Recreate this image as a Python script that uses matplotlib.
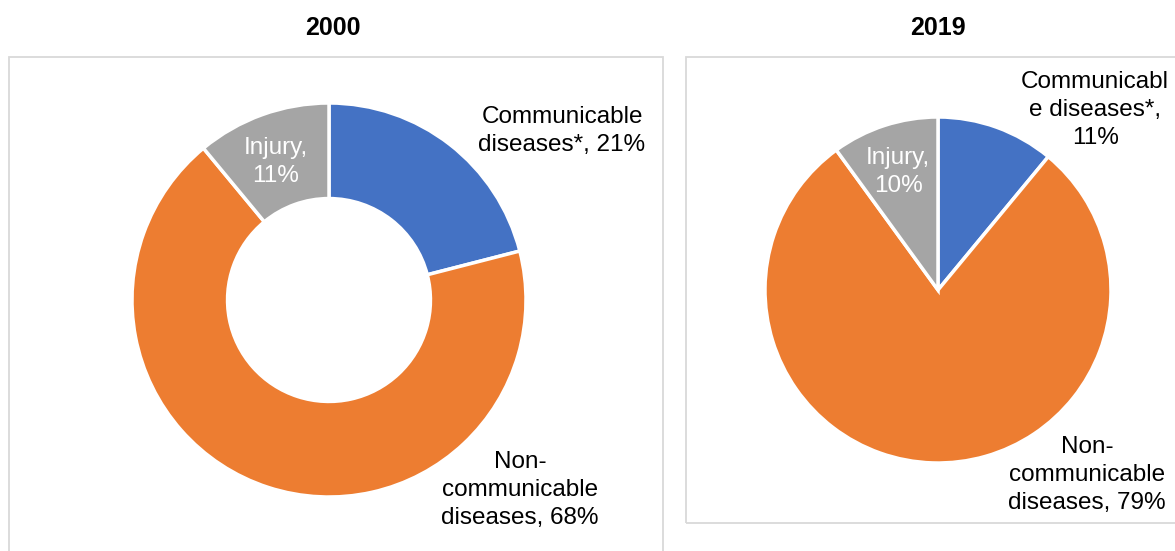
import matplotlib
matplotlib.use("Agg")
import matplotlib.pyplot as plt
from matplotlib.patches import Rectangle

plt.rcParams['font.family'] = ['Liberation Sans', 'DejaVu Sans']

years = ["2000", "2019"]
categories = ["Communicable diseases*", "Non-communicable diseases", "Injury"]
values_2000 = [21, 68, 11]
values_2019 = [11, 79, 10]
labels_2000 = ["Communicable\ndiseases*, 21%", "Non-\ncommunicable\ndiseases, 68%", "Injury,\n11%"]
labels_2019 = ["Communicabl\ne diseases*,\n11%", "Non-\ncommunicable\ndiseases, 79%", "Injury,\n10%"]
colors = ["#4472C4", "#ED7D31", "#A5A5A5"]
label_colors = ["#000000", "#000000", "#FFFFFF"]

W, H = 1175, 551
fig = plt.figure(figsize=(W / 100, H / 100), dpi=100)
fig.patch.set_facecolor("white")

def px_rect(x0, y0, x1, y1):
    return [x0 / W, 1 - y1 / H, (x1 - x0) / W, (y1 - y0) / H]

for (x0, y0, x1, y1) in [(9, 57, 663, 560), (686, 57, 1180, 523)]:
    r = Rectangle((x0 / W, 1 - y1 / H), (x1 - x0) / W, (y1 - y0) / H,
                  transform=fig.transFigure, fill=False, edgecolor="#D9D9D9",
                  linewidth=1.3, clip_on=False)
    fig.add_artist(r)

title_font = ['Liberation Sans Narrow', 'Liberation Sans', 'DejaVu Sans']
fig.text(333 / W, 1 - 28 / H, years[0], ha="center", va="center",
         fontsize=18, fontweight="bold", family=title_font)
fig.text(938 / W, 1 - 28 / H, years[1], ha="center", va="center",
         fontsize=18, fontweight="bold", family=title_font)

def draw(cx, cy, R, values, labels, label_pos, donut):
    ax = fig.add_axes(px_rect(cx - R, cy - R, cx + R, cy + R))
    wp = dict(edgecolor="white", linewidth=2.5)
    if donut:
        wp["width"] = 0.485
    ax.pie(values, colors=colors, startangle=90, counterclock=False,
           radius=1, wedgeprops=wp)
    ax.set_xlim(-1, 1)
    ax.set_ylim(-1, 1)
    ax.set_aspect("equal")
    ax.axis("off")
    for lab, (x, y), c in zip(labels, label_pos, label_colors):
        ax.text(x, y, lab, ha="center", va="center", fontsize=17.5,
                color=c, linespacing=1.33)

draw(329, 300, 197, values_2000, labels_2000,
     [(1.183, 0.858), (0.970, -0.964), (-0.269, 0.70)], True)
draw(938, 290, 173, values_2019, labels_2019,
     [(0.908, 1.040), (0.861, -1.069), (-0.231, 0.682)], False)

fig.savefig("out.png", dpi=100, facecolor="white")
